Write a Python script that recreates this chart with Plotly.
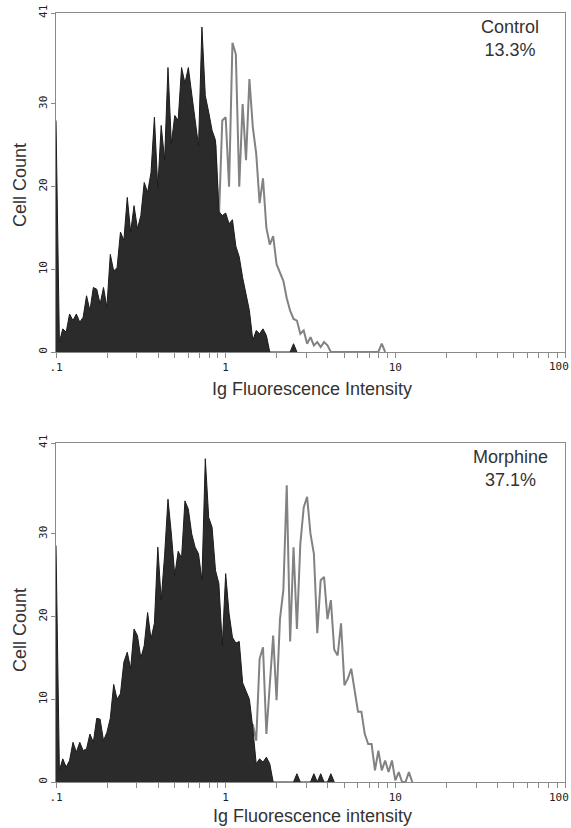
import plotly.graph_objects as go

# ---- data (counts per channel) ----
CHANNEL_STEP = 0.02      # decades per channel
FIRST_DECADE = -1        # channel 0 sits at 0.1

control_isotype_start = 0
control_isotype_counts = [
    28.0, 1.2, 2.8, 2.4, 4.6, 3.8, 4.6, 3.6, 4.2, 6.8,
    5.0, 7.8, 7.6, 5.8, 7.8, 5.4, 11.8, 9.8, 10.2, 14.5,
    13.5, 18.7, 14.5, 17.7, 14.9, 16.5, 20.5, 19.3, 21.7, 28.4,
    19.8, 27.4, 23.2, 34.4, 25.2, 28.6, 28.0, 34.4, 32.5, 34.4,
    31.2, 28.0, 24.9, 39.3, 31.0, 29.0, 26.8, 25.6, 17.0, 16.5,
    16.8, 15.5, 16.0, 12.8, 11.5, 9.0, 7.2, 5.0, 1.4, 2.6,
    2.2, 2.8, 2.0, 0, 0, 0, 0, 0, 0, 0,
    1.0, 0,
]

control_stained_start = 42
control_stained_counts = [
    18.0, 20.0, 22.0, 24.0, 25.6, 25.0, 16.0, 28.0, 28.4, 20.0,
    37.4, 36.0, 20.0, 30.0, 23.2, 33.0, 27.2, 24.0, 18.0, 21.0,
    15.0, 13.0, 14.0, 10.6, 9.5, 8.6, 6.5, 5.0, 4.0, 3.8,
    2.2, 2.6, 1.0, 1.8, 0.8, 1.2, 0.6, 1.2, 0.8, 0,
    0, 0, 0, 0, 0, 0, 0, 0, 0, 0,
    0, 0, 0, 0, 1.0, 0,
]

morphine_isotype_start = 0
morphine_isotype_counts = [
    28.6, 1.4, 2.8, 1.8, 2.6, 4.8, 3.6, 4.8, 3.8, 4.0,
    5.8, 4.8, 7.7, 7.6, 5.0, 6.0, 7.7, 11.8, 10.0, 10.7,
    14.5, 15.7, 13.7, 18.5, 17.7, 15.0, 16.5, 20.5, 17.3, 19.2,
    28.4, 22.0, 27.4, 34.2, 30.0, 25.0, 27.9, 27.1, 34.0, 33.0,
    30.0, 28.4, 27.6, 24.4, 39.1, 32.0, 30.8, 25.6, 24.0, 16.5,
    25.2, 20.4, 17.5, 16.8, 17.0, 12.0, 11.0, 10.0, 6.5, 2.2,
    2.8, 2.4, 3.0, 2.2, 0, 0, 0, 0, 0, 0,
    0, 1.0, 0, 0, 0, 0, 1.0, 0, 1.0, 0,
    0, 1.0, 0,
]

morphine_stained_start = 56
morphine_stained_counts = [
    2.0, 3.8, 7.0, 5.0, 14.9, 16.3, 5.8, 11.7, 17.7, 9.9,
    19.7, 23.2, 35.9, 17.0, 28.4, 18.5, 28.8, 33.2, 34.5, 30.0,
    27.6, 18.0, 24.4, 24.8, 19.7, 22.0, 16.0, 15.3, 19.2, 11.7,
    12.5, 13.7, 10.9, 8.5, 8.5, 5.8, 4.6, 4.6, 1.4, 3.8,
    1.4, 2.6, 1.2, 2.6, 0.2, 1.2, 0, 0, 1.2, 0,
]

panel_labels = ["Control", "Morphine"]
panel_percents = ["13.3%", "37.1%"]
x_titles = ["Ig Fluorescence Intensity", "Ig Fluorescence intensity"]
y_title = "Cell Count"
x_tick_decades = [0.1, 1, 10, 100]
x_tick_labels = [".1", "1", "10", "100"]
y_tick_values = [0, 10, 20, 30, 41]
y_tick_labels = ["0", "10", "20", "30", "41"]


def channel_x(start, n):
    return [10 ** (FIRST_DECADE + CHANNEL_STEP * (start + i)) for i in range(n)]


# ---- figure ----
W, H = 571, 828
ML, MR, MT, MB = 56, 6, 13, 46
PW = W - ML - MR
PH = H - MT - MB


def py(pix):   # pixel y -> paper y
    return (H - MB - pix) / PH


def px(pix):   # pixel x -> paper x
    return (pix - ML) / PW


FILL = "#2b2b2b"
LINE = "#828282"
AXIS = "#8a8a8a"
TICKFONT = dict(family="DejaVu Sans Mono", size=11, color="#222")

fig = go.Figure()

panels = [
    ("x", "y", control_isotype_start, control_isotype_counts, control_stained_start, control_stained_counts),
    ("x2", "y2", morphine_isotype_start, morphine_isotype_counts, morphine_stained_start, morphine_stained_counts),
]
for xa, ya, s_iso, iso, s_st, st in panels:
    fig.add_trace(go.Scatter(
        x=channel_x(s_st, len(st)), y=st, mode="lines",
        line=dict(color=LINE, width=2, shape="linear"),
        xaxis=xa, yaxis=ya, showlegend=False, hoverinfo="skip"))
    fig.add_trace(go.Scatter(
        x=channel_x(s_iso, len(iso)), y=iso, mode="lines", fill="tozeroy",
        fillcolor=FILL, line=dict(color="#1c1c1c", width=1, shape="linear"),
        xaxis=xa, yaxis=ya, showlegend=False, hoverinfo="skip"))

# tick positions: decades plus 2..9 minor positions; the last decade label is
# placed as a right-anchored annotation so it stays inside the page
minor_vals = []
for d in x_tick_decades[:-1]:
    minor_vals += [d * k for k in range(1, 10)]
minor_vals.append(x_tick_decades[-1])
minor_text = [x_tick_labels[x_tick_decades.index(v)] if v in x_tick_decades[:-1] else "" for v in minor_vals]

xax = dict(type="log", range=[-1, 2], showline=True, mirror=True, linecolor=AXIS, linewidth=1,
           ticks="outside", ticklen=5, tickcolor=AXIS, tickwidth=1,
           tickvals=minor_vals, ticktext=minor_text,
           tickfont=TICKFONT,
           showgrid=False, zeroline=False, fixedrange=True, automargin=False)
yax = dict(range=[0, 41], showline=True, mirror=True, linecolor=AXIS, linewidth=1,
           ticks="outside", ticklen=4, tickcolor=AXIS, tickwidth=1,
           tickvals=y_tick_values, ticktext=y_tick_labels, tickangle=-90,
           tickfont=TICKFONT,
           showgrid=False, zeroline=False, fixedrange=True, automargin=False)

top_dom = [py(352), py(13)]
bot_dom = [py(782), py(443)]

fig.update_layout(
    width=W, height=H,
    margin=dict(l=ML, r=MR, t=MT, b=MB, autoexpand=False),
    paper_bgcolor="white", plot_bgcolor="white",
    xaxis=dict(xax, anchor="y", domain=[0, 1]),
    yaxis=dict(yax, anchor="x", domain=top_dom),
    xaxis2=dict(xax, anchor="y2", domain=[0, 1]),
    yaxis2=dict(yax, anchor="x2", domain=bot_dom),
)

TF = dict(family="Liberation Sans, Arial", size=18, color="#333")
ann = []
for k, (off_lab, y_xt, y_yt, y_tl) in enumerate([(0, 389, 185, 367), (430, 816, 630, 797)]):
    ann.append(dict(text=panel_labels[k] + "<br>" + panel_percents[k], x=px(510), y=py(39 + off_lab),
                    xref="paper", yref="paper", showarrow=False, font=TF,
                    xanchor="center", yanchor="middle", align="center"))
    ann.append(dict(text=x_titles[k], x=px(312), y=py(y_xt), xref="paper", yref="paper",
                    showarrow=False, font=TF, xanchor="center", yanchor="middle"))
    ann.append(dict(text=y_title, x=px(20), y=py(y_yt), xref="paper", yref="paper",
                    showarrow=False, font=TF, xanchor="center", yanchor="middle", textangle=-90))
    ann.append(dict(text=x_tick_labels[-1], x=px(570), y=py(y_tl), xref="paper", yref="paper",
                    showarrow=False, font=TICKFONT, xanchor="right", yanchor="middle",
                    borderpad=0))
fig.update_layout(annotations=ann)

fig.write_html("out.html", config={"displayModeBar": False},
               post_script="document.body.style.margin='0';document.body.style.overflow='hidden';")
